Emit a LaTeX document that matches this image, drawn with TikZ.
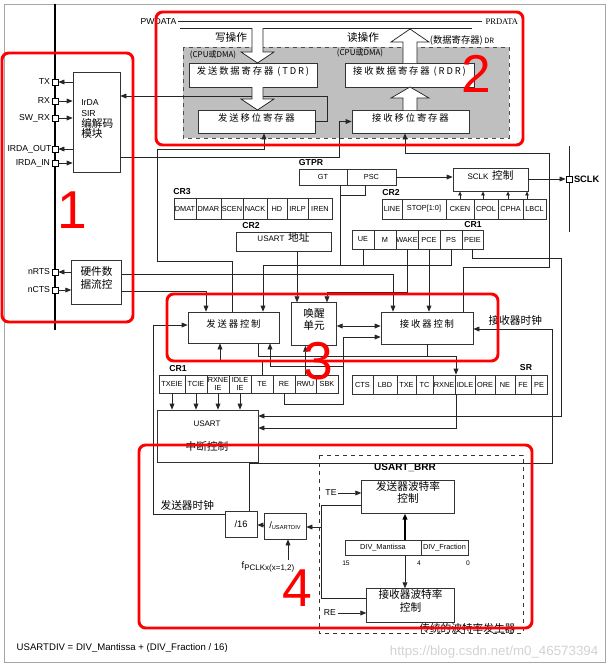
\documentclass[tikz,border=0pt]{standalone}
\usepackage{fontspec}
\setmainfont{Liberation Sans}
\newfontfamily\cjk{Noto Sans CJK SC}
\newfontfamily\cjksp[LetterSpace=20]{Noto Sans CJK SC}
\newfontfamily\serif{Liberation Serif}
\usepackage{tikz}
\usetikzlibrary{arrows.meta,fit,positioning}

\tikzset{
  wire/.style={line width=0.55pt, draw=black!85},
  box/.style={draw=black!80, line width=0.55pt, fill=white, inner sep=0pt},
  cell/.style={draw=black!80, line width=0.5pt, fill=white, inner sep=0pt},
  celltext/.style={inner sep=0pt, align=center, font=\fontsize{5.5}{5.6}\selectfont},
  pin/.style={draw=black, line width=0.5pt, fill=white, minimum size=4.6pt, inner sep=0pt},
  lbl/.style={font=\fontsize{6.5}{7}\selectfont, inner sep=1pt},
  regname/.style={font=\bfseries\fontsize{6.5}{7}\selectfont, inner sep=1pt},
  zh/.style={font=\cjk\fontsize{8}{9.5}\selectfont, inner sep=1pt},
  zhs/.style={font=\cjksp\fontsize{7}{8}\selectfont},
  redbox/.style={draw=red, line width=2.2pt, rounded corners=5pt},
  bignum/.style={text=red, font=\fontsize{40}{40}\selectfont, inner sep=0pt},
  small tip/.style={-{Triangle[length=3pt,width=2.6pt]}},
}

\begin{document}
\begin{tikzpicture}[x=0.75pt,y=0.75pt,yscale=-1,xscale=1,>={Triangle[length=4.5pt,width=3.6pt]}]
\useasboundingbox (0,0) rectangle (615,669);
%frame
\draw[gray!70, line width=0.6pt] (4,4) rectangle (605,662);

%data register (DR)
\draw[dashed, black!70, fill=gray!50] (183,47) rectangle (509,138);
\draw[wire] (178,21) -- (482,21);
\draw[wire] (180,28) -- (252,28);
\draw[wire] (263,28) -- (472,28);
\node[lbl, anchor=east] (pwdata) at (178,22) {PWDATA};
\node[font=\serif\fontsize{6.4}{7}\selectfont, anchor=west, inner sep=1pt] (prdata) at (484,22) {PRDATA};
\node[zh] (wrop) at (231,37) {写操作};
\node[zh] (rdop) at (363,37) {读操作};
\node[font=\cjk\fontsize{6}{7}\selectfont, inner sep=1pt] (cpuw) at (213,55) {(CPU或DMA)};
\node[font=\cjk\fontsize{6}{7}\selectfont, inner sep=1pt] (cpur) at (360,53) {(CPU或DMA)};
\node[font=\cjk\fontsize{7}{8}\selectfont, inner sep=1pt] (drname) at (462,40) {(数据寄存器)\,{\fontsize{5.5}{6}\selectfont DR}};

\node[box, zhs, fit={(189,63) (317,87)}] (tdr) {发送数据寄存器 (TDR)};
\node[box, zhs, fit={(198,110) (315,133)}] (tsr) {发送移位寄存器};
\node[box, zhs, fit={(345,63) (474,87)}] (rdr) {接收数据寄存器 (RDR)};
\node[box, zhs, fit={(352,110) (469,133)}] (rsr) {接收移位寄存器};

%pins and IrDA
\draw[line width=0.9pt] (55,4) -- (55,330);
\node[box, fit={(73,72) (120,172)}] (irda) {};
\node[anchor=west, align=left, inner sep=0pt, font=\fontsize{6.5}{8.2}\selectfont] (irdatxt) at (81,119) {IrDA\\ SIR\\ {\cjk\fontsize{8}{10}\selectfont 编解码}\\ {\cjk\fontsize{8}{10}\selectfont 模块}};
\node[box, zh, align=center, fit={(73,262) (120,303)}] (hfc) {硬件数\\据流控};

\node[pin] (pTX) at (55,82) {};
\node[pin] (pRX) at (55,101) {};
\node[pin] (pSW) at (55,118) {};
\node[pin] (pIOUT) at (55,149) {};
\node[pin] (pIIN) at (55,163) {};
\node[pin] (pRTS) at (55,272) {};
\node[pin] (pCTS) at (55,290) {};
\node[lbl, anchor=east] at (pTX.west) {TX};
\node[lbl, anchor=east] at (pRX.west) {RX};
\node[lbl, anchor=east] at (pSW.west) {SW\_RX};
\node[lbl, anchor=east, inner sep=0pt] at (pIOUT.west) {IRDA\_OUT};
\node[lbl, anchor=east] at (pIIN.west) {IRDA\_IN};
\node[lbl, anchor=east] at (pRTS.west) {nRTS};
\node[lbl, anchor=east] at (pCTS.west) {nCTS};
\draw[wire,->] (irda.west |- pTX) -- (pTX);
\draw[wire,->] (pRX) -- (irda.west |- pRX);
\draw[wire,->] (pSW) -- (irda.west |- pSW);
\draw[wire,->] (irda.west |- pIOUT) -- (pIOUT);
\draw[wire,->] (pIIN) -- (irda.west |- pIIN);
\draw[wire,->] (hfc.west |- pRTS) -- (pRTS);
\draw[wire,->] (pCTS) -- (hfc.west |- pCTS);

%registers
\node[regname] (cr3name) at (182,192) {CR3};
\foreach \a/\b/\t [count=\i] in {174/196/DMAT,196/221/DMAR,221/243/SCEN,243/267/NACK,267/287/HD,287/308/IRLP,308/332/IREN}{
  \node[cell, fit={(\a,198) (\b,219)}] (crc\i) {};
  \node[celltext] at (crc\i) {\t};}
\node[regname] (gtprname) at (311,163) {GTPR};
\node[cell, fit={(299,169) (347,185)}] (gt) {};
\node[celltext] at (gt) {GT};
\node[cell, fit={(347,169) (396,185)}] (psc) {};
\node[celltext] at (psc) {PSC};
\node[regname] (cr2aname) at (251,226) {CR2};
\node[box, fit={(236,232) (331,251)}] (addr) {{\fontsize{6}{7}\selectfont USART} {\cjk\fontsize{8}{9}\selectfont 地址}};
\node[regname] (cr2bname) at (391,193) {CR2};
\foreach \a/\b/\t [count=\i] in {382/402/LINE,402/446/STOP[1:0],446/474/CKEN,474/498/CPOL,498/523/CPHA,523/546/LBCL}{
  \node[cell, fit={(\a,199) (\b,219)}] (crb\i) {};
  \node[celltext] at (crb\i) {\t};}
\node[box, fit={(453,168) (528,191)}] (sclkc) {{\fontsize{6}{7}\selectfont SCLK} {\cjk\fontsize{8}{9}\selectfont 控制}};
\node[regname] (cr1aname) at (473,225) {CR1};
\foreach \a/\b/\t [count=\i] in {352/374/UE,374/396/M,396/418/WAKE,418/440/PCE,440/462/PS,462/483/PEIE}{
  \node[cell, fit={(\a,230) (\b,249)}] (cra\i) {};
  \node[celltext] at (cra\i) {\t};}

%control blocks
\node[box, zhs, fit={(188,312) (279,343)}] (txctl) {发送器控制};
\node[box, zh, align=center, fit={(293,304) (335,344)}] (wake) {唤醒\\单元};
\node[box, zhs, fit={(381,312) (473,344)}] (rxctl) {接收器控制};
\node[regname] (cr1bname) at (178,369) {CR1};
\foreach \a/\b/\t [count=\i] in {159/185/TXEIE,185/207/TCIE,207/229/{RXNE\\IE},229/251/{IDLE\\IE},251/273/TE,273/295/RE,295/316/RWU,316/338/SBK}{
  \node[cell, fit={(\a,375) (\b,393)}] (crd\i) {};
  \node[celltext] at (crd\i) {\t};}
\node[regname] (srname) at (526,368) {SR};
\foreach \a/\b/\t [count=\i] in {352/373/CTS,373/397/LBD,397/416/TXE,416/433/TC,433/455/RXNE,455/475/IDLE,475/495/ORE,495/515/NE,515/531/FE,531/547/PE}{
  \node[cell, fit={(\a,375) (\b,394)}] (cre\i) {};
  \node[celltext] at (cre\i) {\t};}
\node[box, fit={(157,410) (258,462)}] (intr) {};
\node[font=\fontsize{6}{7}\selectfont] (intr1) at (207,424) {USART};
\node[zh] (intr2) at (207,446) {中断控制};

%baud rate
\draw[dashed, black!80, line width=0.6pt] (319,455) rectangle (523,633);
\node[font=\bfseries\fontsize{7.5}{8}\selectfont] (brrname) at (405,468) {USART\_BRR};
\node[box, zh, align=center, fit={(363,482) (453,512)}] (txbaud) {发送器波特率\\控制};
\node[box, zh, align=center, fit={(368,590) (453,621)}] (rxbaud) {接收器波特率\\控制};
\node[cell, fit={(345,540) (421,555)}] (mant) {};
\node[celltext] at (mant) {DIV\_Mantissa};
\node[cell, fit={(421,540) (468,555)}] (frac) {};
\node[celltext] at (frac) {DIV\_Fraction};
\node[font=\fontsize{5}{5}\selectfont] (b15) at (346,563) {15};
\node[font=\fontsize{5}{5}\selectfont] (b4) at (419,563) {4};
\node[font=\fontsize{5}{5}\selectfont] (b0) at (468,563) {0};
\node[lbl] (telbl) at (331,493) {TE};
\node[lbl] (relbl) at (330,613) {RE};
\node[zh, anchor=east] (oldgen) at (517,628) {传统的波特率发生器};
\node[box, fit={(225,511) (257,537)}] (div16) {};
\node[font=\fontsize{7}{8}\selectfont] at (div16) {/16};
\node[box, fit={(264,513) (306,539)}] (udiv) {};
\node[inner sep=0pt] at (udiv) {{\fontsize{7}{8}\selectfont /}\raisebox{-0.8pt}{\fontsize{4.3}{5}\selectfont USARTDIV}};
\node[font=\fontsize{7}{8}\selectfont, inner sep=1pt] (fpclk) at (268,567) {f\raisebox{-1.8pt}{\fontsize{6}{6}\selectfont PCLKx(x=1,2)}};
\node[zh, anchor=west] (txclk) at (159,505) {发送器时钟};
\node[zh, anchor=west] (rxclk) at (487,320) {接收器时钟};

%connections in the top part
\draw[wire,->] (tsr.east) -| (327,96) -- (irda.east |- 0,96);
\draw[wire,->] (irda.east |- 0,157) -| ([xshift=-9pt]rsr.west) -- (rsr.west);
\draw[wire,->] (txctl.north -| 232,0) |- (157,261) |- (264,149) -- (tsr.south -| 264,0);
\draw[wire,->] (rxctl.north -| 463,0) |- (549,267) |- (405,153) -- (rsr.south -| 405,0);

%GTPR, CR1, CR2
\draw[wire] (gt.south -| 340,0) -- (340,265);
\draw[wire] (psc.south -| 365,0) |- (340,195);
\draw[wire] (cra1.south) -- (cra1.south |- 0,265);
\draw[wire,->] (cra5.south) |- (263,265) -- (txctl.north -| 263,0);
\draw[wire,->] (psc.east) -- (sclkc.west |- psc.east);
\draw[wire] (569,146) -- (569,232);
\node[pin] (psclk) at (569,179) {};
\node[regname, anchor=west, font=\bfseries\fontsize{7}{8}\selectfont] (sclkname) at (psclk.east) {SCLK};
\draw[wire,->] (sclkc.east |- psclk) -- (psclk);
\foreach \i/\xx in {3/460,4/483,5/508,6/527}
  \draw[wire,small tip] (crb\i.north -| \xx,0) -- (sclkc.south -| \xx,0);
\draw[wire,->] (addr.south -| 297,0) -- (wake.north -| 297,0);
\draw[wire,->] (cra3.south) |- (327,292) -- (wake.north -| 327,0);
\draw[wire,->] (cra4.south) -- (rxctl.north -| cra4.south);
\draw[wire,->] (hfc.east |- 0,274) -| (rxctl.north -| 393,0);
\draw[wire,->] (hfc.east |- 0,291) -| (txctl.north -| 206,0);
\draw[wire,->] (cra6.south) |- (561,258) |- (intr.east |- 0,416);

%control signals
\draw[wire,<->] (wake.east |- 0,326) -- (rxctl.west |- 0,326);
\draw[wire,->] (crd6.south) |- (343,404) |- (rxctl.west |- 0,337);
\draw[wire,->] (crd5.north) |- (220,360) -- (txctl.south -| 220,0);
\draw[wire,->] (343,366) -- (270,366) -- (txctl.south -| 270,0);
\draw[wire,->] (crd7.north) -- (wake.south -| crd7.north);
\draw[wire] (txctl.south -| 258,0) |- (456,356);
\draw[wire] (rxctl.south -| 427,0) -- (427,356);
\draw[wire,->] (456,356) -- (cre5.north -| 456,0);
\draw[wire,->] (cre5.south -| 456,0) |- (intr.east |- 0,428);
\foreach \i in {1,...,4}
  \draw[wire,->] (crd\i.south) -- (intr.north -| crd\i.south);

%clocks
\draw[wire,->] (div16.north -| 249,0) |- (552,463) |- (rxctl.east |- 0,329);
\draw[wire,->] (div16.west |- 0,514) -| (153,325) -- (txctl.west |- 0,325);
\draw[wire,->] (telbl.east) -- (txbaud.west |- telbl.east);
\draw[wire,->] (relbl.east) -- (rxbaud.west |- relbl.east);
\draw[wire] (txbaud.west |- 0,505) -| (321,598) -- (rxbaud.west |- 0,598);
\draw[wire,->] (321,527) -- (udiv.east |- 0,527);
\draw[wire,->] (udiv.west |- 0,525) -- (div16.east |- 0,525);
\draw[wire,->] (fpclk.north -| 288,0) -- (udiv.south -| 288,0);
\draw[line width=1.3pt,->] (mant.north -| 405,0) -- (txbaud.south -| 405,0);
\draw[wire,->] (mant.south -| 405,0) -- (rxbaud.north -| 405,0);

%hollow arrows
\filldraw[wire, fill=white] (252,28) -- (252,52) -- (241,52) -- (257.5,63) -- (274,52) -- (263,52) -- (263,28);
\filldraw[wire, fill=white] (252,87) -- (252,99) -- (241,99) -- (257.5,110) -- (274,99) -- (263,99) -- (263,87);
\filldraw[wire, fill=white] (403,110) -- (403,98) -- (391,98) -- (410,87) -- (429,98) -- (417,98) -- (417,110);
\filldraw[wire, fill=white] (403,63) -- (403,42) -- (391,42) -- (410,29) -- (429,42) -- (417,42) -- (417,63);

%bottom text
\node[font=\fontsize{7.2}{8}\selectfont, anchor=west] (formula) at (12,648) {USARTDIV = DIV\_Mantissa + (DIV\_Fraction / 16)};
\node[font=\fontsize{10}{11}\selectfont, text=gray!35, anchor=east] (wmark) at (603,652) {https://blog.csdn.net/m0\_46573394};

%red marks
\draw[redbox] (2,53) rectangle (133,322);
\draw[redbox] (156,12) rectangle (523,145);
\draw[redbox] (167,294) rectangle (498,361);
\draw[redbox] (139,445) rectangle (532,628);
\node[bignum] (num1) at (72,210) {1};
\node[bignum] (num2) at (476,74) {2};
\node[bignum] (num3) at (318,361) {3};
\node[bignum] (num4) at (297,588) {4};
\end{tikzpicture}
\end{document}
